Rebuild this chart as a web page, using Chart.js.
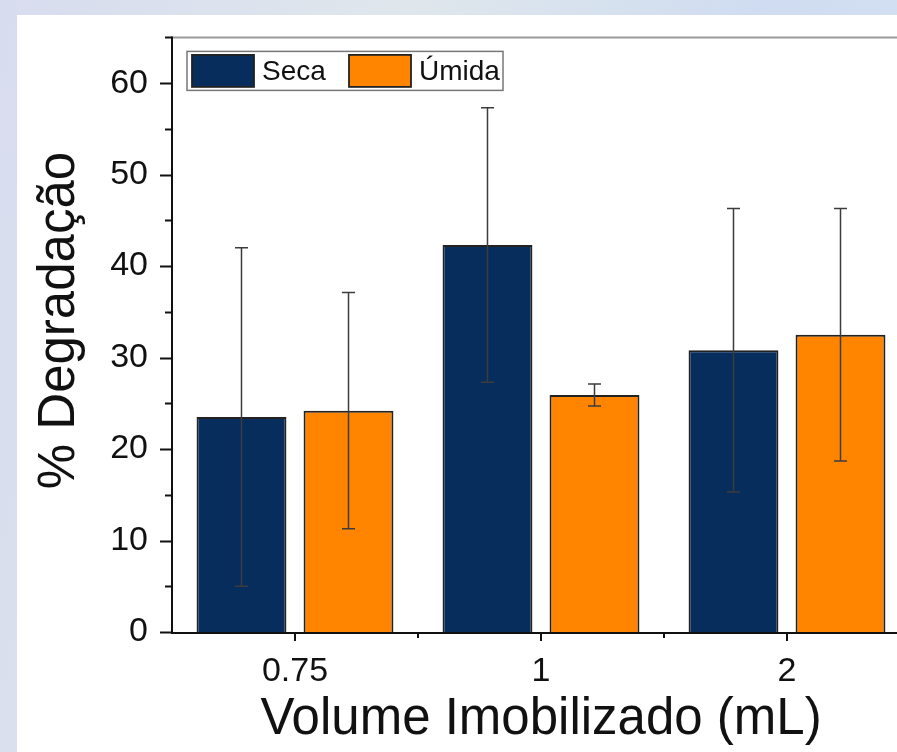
<!DOCTYPE html>
<html>
<head>
<meta charset="utf-8">
<script src="https://cdn.jsdelivr.net/npm/chart.js@4.4.1/dist/chart.umd.min.js"></script>
<style>
  html, body { margin: 0; padding: 0; width: 897px; height: 752px; overflow: hidden; }
  body { background: linear-gradient(100deg, #d8dcef 0%, #dfe7ec 40%, #cfdcf1 75%, #d6e2f2 100%); position: relative; }
  #panel { position: absolute; left: 17px; top: 15px; width: 900px; height: 737px; background: #fff; }
  #chart { display: block; }
</style>
</head>
<body>
<div id="panel"><canvas id="chart" width="900" height="737"></canvas></div>
<script>
var volumes = ['0.75', '1', '2'];
var secaValues = [23.5, 42.3, 30.8];
var secaErrors = [18.5, 15.0, 15.5];
var umidaValues = [24.2, 25.9, 32.5];
var umidaErrors = [12.9, 1.2, 13.8];
var yTicks = [0, 10, 20, 30, 40, 50, 60];

var FONT = "'Liberation Sans', Arial, sans-serif";

// error bars, drawn from the bar elements and the y scale
var errorBars = {
  id: 'errorBars',
  afterDatasetsDraw: function(chart) {
    var ctx = chart.ctx;
    var y = chart.scales.y;
    ctx.save();
    ctx.strokeStyle = '#3c3c3c';
    ctx.lineWidth = 1.5;
    chart.data.datasets.forEach(function(ds, di) {
      var meta = chart.getDatasetMeta(di);
      meta.data.forEach(function(bar, i) {
        var v = ds.data[i], e = ds.errors[i];
        var top = y.getPixelForValue(v + e);
        var bot = y.getPixelForValue(v - e);
        var x = bar.x, c = 6.5;
        ctx.beginPath();
        ctx.moveTo(x, top); ctx.lineTo(x, bot);
        ctx.moveTo(x - c, top); ctx.lineTo(x + c, top);
        ctx.moveTo(x - c, bot); ctx.lineTo(x + c, bot);
        ctx.stroke();
      });
    });
    ctx.restore();
  }
};

// axis frame, tick marks (major + minor) and legend box
var frame = {
  id: 'frame',
  afterDraw: function(chart) {
    var ctx = chart.ctx;
    var a = chart.chartArea;
    var x = chart.scales.x, y = chart.scales.y;
    ctx.save();
    // top frame line
    ctx.strokeStyle = '#9a9a9a';
    ctx.lineWidth = 2;
    ctx.beginPath(); ctx.moveTo(a.left, a.top); ctx.lineTo(a.right + 20, a.top); ctx.stroke();
    // axes
    ctx.strokeStyle = '#111';
    ctx.lineWidth = 2;
    ctx.beginPath();
    ctx.moveTo(a.left, a.top - 1); ctx.lineTo(a.left, a.bottom + 1);
    ctx.lineTo(a.right + 20, a.bottom + 1);
    ctx.stroke();
    // y ticks
    y.ticks.forEach(function(t) {
      var py = Math.round(y.getPixelForValue(t.value)) + 0.5;
      var len = t.value % 10 === 0 ? 12 : 7;
      ctx.beginPath(); ctx.moveTo(a.left - len, py); ctx.lineTo(a.left, py); ctx.stroke();
    });
    // x ticks: category centers and boundaries
    for (var i = 0; i < volumes.length; i++) {
      var cx = x.getPixelForValue(i);
      var bx = x.getPixelForValue(i + 0.5);
      ctx.beginPath();
      ctx.moveTo(cx, a.bottom); ctx.lineTo(cx, a.bottom + 9);
      ctx.moveTo(bx, a.bottom); ctx.lineTo(bx, a.bottom + 6);
      ctx.stroke();
    }
    // legend
    var lx = a.left + 15, ly = a.top + 14, lw = 316, lh = 39;
    ctx.lineWidth = 1.5;
    ctx.strokeStyle = '#777';
    ctx.strokeRect(lx, ly, lw, lh);
    ctx.font = '28px ' + FONT;
    ctx.textBaseline = 'middle';
    var offsets = [5, 162];
    chart.data.datasets.forEach(function(ds, di) {
      var sx = lx + offsets[di];
      ctx.fillStyle = ds.backgroundColor;
      ctx.fillRect(sx, ly + 3.5, 62, 32);
      ctx.strokeStyle = '#222';
      ctx.lineWidth = 1.8;
      ctx.strokeRect(sx, ly + 3.5, 62, 32);
      ctx.fillStyle = '#111';
      ctx.fillText(ds.label, sx + 70, ly + lh / 2 + 1);
    });
    ctx.restore();
  }
};

new Chart(document.getElementById('chart'), {
  type: 'bar',
  data: {
    labels: volumes,
    datasets: [
      { label: 'Seca', data: secaValues, errors: secaErrors, backgroundColor: '#072d5c', borderColor: '#222', borderWidth: 2 },
      { label: 'Úmida', data: umidaValues, errors: umidaErrors, backgroundColor: '#ff8400', borderColor: '#222', borderWidth: 2 }
    ]
  },
  options: {
    responsive: false,
    animation: false,
    layout: { padding: { left: 0, right: 7, top: 0, bottom: 0 } },
    plugins: { legend: { display: false }, tooltip: { enabled: false } },
    datasets: { bar: { categoryPercentage: 0.87, barPercentage: 0.84 } },
    scales: {
      x: {
        afterFit: function(s) { s.height = 120; },
        grid: { display: false, drawTicks: false },
        border: { display: false },
        ticks: { color: '#111', font: { family: FONT, size: 34 }, padding: 19 },
        title: { display: true, text: 'Volume Imobilizado (mL)', color: '#111', font: { family: FONT, size: 51 }, padding: { top: 0, bottom: 1 } }
      },
      y: {
        min: 0, max: 65,
        afterFit: function(s) { s.width = 155; },
        afterBuildTicks: function(s) {
          var t = [];
          for (var v = 0; v <= 65; v += 5) t.push({ value: v });
          s.ticks = t;
        },
        grid: { display: false, drawTicks: true, tickLength: 22 },
        border: { display: false },
        ticks: {
          color: '#111', font: { family: FONT, size: 34 }, padding: 2,
          callback: function(v) { return yTicks.indexOf(v) >= 0 ? String(v) : ''; }
        },
        title: { display: true, text: '  % Degradação', color: '#111', font: { family: FONT, size: 51 }, padding: { top: 12, bottom: 0 } }
      }
    }
  },
  plugins: [errorBars, frame]
});
</script>
</body>
</html>
